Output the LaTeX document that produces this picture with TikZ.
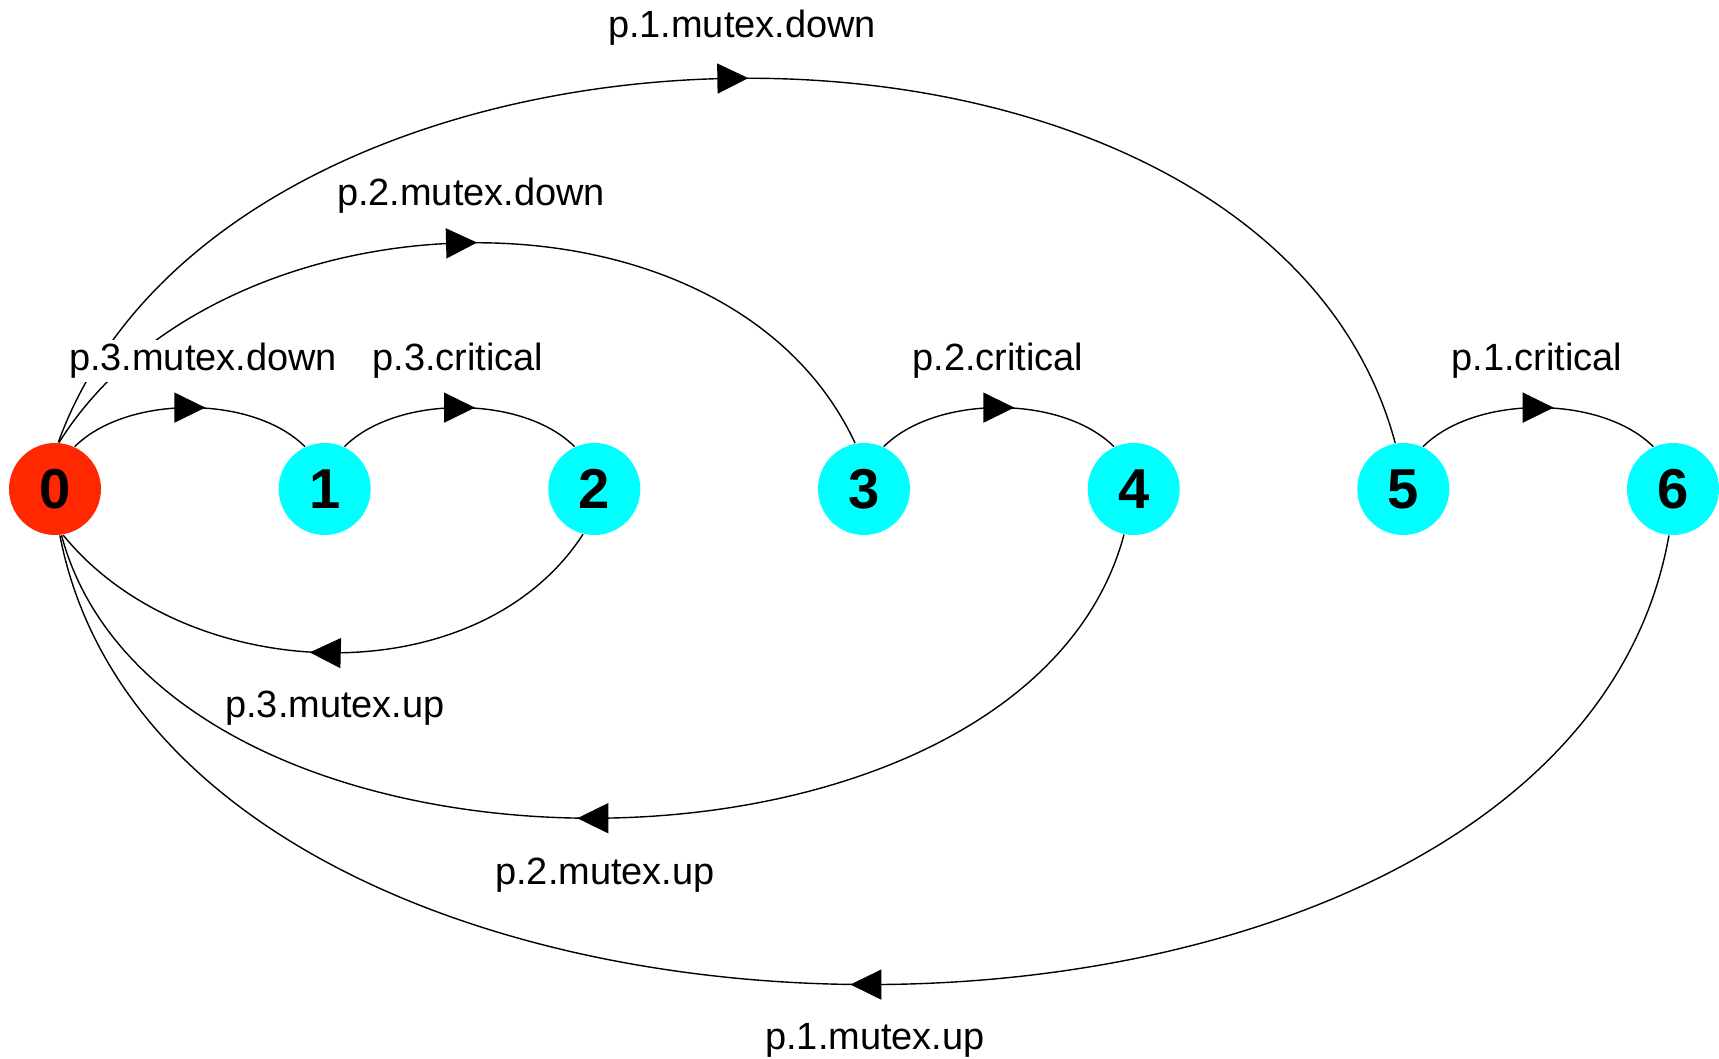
\documentclass[tikz,border=0pt]{standalone}
\usepackage{fontspec}
\setmainfont{Liberation Sans}
\usetikzlibrary{arrows.meta,decorations.markings}
\definecolor{statered}{RGB}{255,40,0}
\definecolor{statecyan}{RGB}{0,255,255}
\tikzset{
  state/.style={circle,fill=statecyan,minimum size=9.2mm,inner sep=0pt,font={\fontsize{16}{16}\selectfont\bfseries}},
  trans/.style={draw=black,line width=0.4pt,postaction={decorate},
    decoration={markings,mark=at position 0.5 with {\arrow[xshift=1.55mm]{Triangle[length=3.1mm,width=3mm]}}}},
  lbl/.style={fill=white,inner sep=1pt,font={\fontsize{10.8}{12}\selectfont}}
}
\begin{document}
\begin{tikzpicture}
        \useasboundingbox (0,0) rectangle (17.19,10.59);

        \node[state,fill=statered] (n0) at (0.55,5.70) {0};
        \node[state] (n1) at (3.247,5.70) {1};
        \node[state] (n2) at (5.943,5.70) {2};
        \node[state] (n3) at (8.640,5.70) {3};
        \node[state] (n4) at (11.337,5.70) {4};
        \node[state] (n5) at (14.033,5.70) {5};
        \node[state] (n6) at (16.730,5.70) {6};

        \draw[trans] (n0.65) to[out=45,in=135,looseness=0.82] (n1.115);
        \draw[trans] (n1.65) to[out=45,in=135,looseness=0.82] (n2.115);
        \draw[trans] (n3.65) to[out=45,in=135,looseness=0.82] (n4.115);
        \draw[trans] (n5.65) to[out=45,in=135,looseness=0.82] (n6.115);

        \draw[trans] (n0.85) .. controls +(58:3.04) and +(115:3.04) .. (n3.101);
        \draw[trans] (n0.86) .. controls +(70:5.1) and +(105:5.1) .. (n5.100);

        \draw[trans] (n2.-104) .. controls +(-123:1.95) and +(-51:1.95) .. (n0.-80);
        \draw[trans] (n4.-102) .. controls +(-105:3.91) and +(-75:3.91) .. (n0.-82);
        \draw[trans] (n6.-95) .. controls +(-100:6.09) and +(-79:6.09) .. (n0.-84);

        \node[lbl] (l3down) at (2.03,6.98) {p.3.mutex.down};
        \node[lbl] (l3crit) at (4.58,6.98) {p.3.critical};
        \node[lbl] (l2crit) at (9.98,6.98) {p.2.critical};
        \node[lbl] (l1crit) at (15.37,6.98) {p.1.critical};
        \node[lbl] (l2down) at (4.71,8.63) {p.2.mutex.down};
        \node[lbl] (l1down) at (7.42,10.31) {p.1.mutex.down};
        \node[lbl] (l3up) at (3.35,3.51) {p.3.mutex.up};
        \node[lbl] (l2up) at (6.05,1.84) {p.2.mutex.up};
        \node[lbl] (l1up) at (8.75,0.19) {p.1.mutex.up};
          \end{tikzpicture}
\end{document}
